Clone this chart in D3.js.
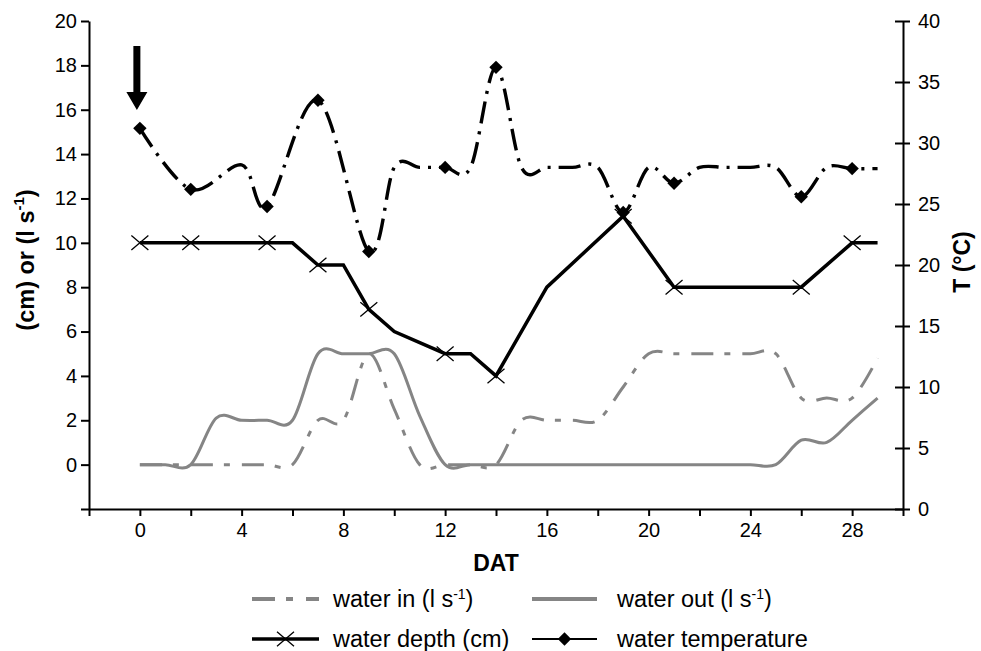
<!DOCTYPE html>
<html lang="en">
<head>
<meta charset="UTF-8">
<title>Water chart</title>
<script src="https://d3js.org/d3.v7.min.js"></script>
<style>
    body { margin: 0; background: #fff; }
    * { font-family: "Liberation Sans", Arial, sans-serif; }
    .axis path, .axis line { stroke: #000; stroke-width: 2; }
    .axis text { fill: #000; font-size: 20px; }
</style>
</head>
<body>
<div id="chart"></div>
<script>

// Data (days after transplanting = DAT)
var days = d3.range(0, 30);

// water in (l s-1), one value per day 0..29
var waterIn = [0, 0, 0, 0, 0, 0, 0, 2, 2, 5, 2.5, 0, 0, 0, 0,
               2, 2, 2, 2, 3.5, 5, 5, 5, 5, 5, 5, 3, 3, 3, 4.8];

// water out (l s-1), one value per day 0..29
var waterOut = [0, 0, 0, 2.1, 2, 2, 2, 5, 5, 5, 5, 2.2, 0, 0, 0,
                0, 0, 0, 0, 0, 0, 0, 0, 0, 0, 0, 1.1, 1.0, 2.0, 3.0];

// water depth (cm)
var depthDays   = [0, 2, 5, 6, 7, 8, 9, 10, 12, 13, 14, 16, 19, 21, 26, 28, 29];
var depthValues = [10, 10, 10, 10, 9, 9, 7, 6, 5, 5, 4, 8, 11.2, 8, 8, 10, 10];
var depthMarkerDays = [0, 2, 5, 7, 9, 12, 14, 19, 21, 26, 28];

// water temperature (°C)
var tempDays   = [0, 2, 4, 5, 7, 9, 10, 11, 12, 13, 14, 15, 16, 17, 18, 19,
                  20, 21, 22, 23, 24, 25, 26, 27, 28, 29];
var tempValues = [31.2, 26.2, 28.2, 24.8, 33.5, 21.1, 28, 28, 28, 28, 36.2, 28, 28, 28, 28, 24.3,
                  28, 26.7, 28, 28, 28, 28, 25.6, 28, 27.9, 27.9];
var tempMarkerDays = [0, 2, 5, 7, 9, 12, 14, 19, 21, 26, 28];

// ticks
var xTicks = d3.range(-2, 31, 2);
var leftTicks = d3.range(-2, 21, 2);
var rightTicks = d3.range(0, 41, 5);

var width = 981, height = 651;
var grey = "#858585";

var svg = d3.select("#chart").append("svg")
    .attr("width", width)
    .attr("height", height);

// Scales
var xScale = d3.scaleLinear().domain([-2, 30]).range([89, 903]);
var yLeft = d3.scaleLinear().domain([-2, 20]).range([509, 21]);
var yRight = d3.scaleLinear().domain([0, 40]).range([509, 21]);

// Axes
svg.append("g")
    .attr("class", "axis")
    .attr("transform", "translate(0," + yLeft(-2) + ")")
    .call(d3.axisBottom(xScale)
        .tickValues(xTicks)
        .tickSize(7)
        .tickSizeOuter(0)
        .tickPadding(7)
        .tickFormat(function(d){ return (d >= 0 && d % 4 === 0 && d <= 28) ? d : ""; }));

svg.append("g")
    .attr("class", "axis")
    .attr("transform", "translate(" + xScale(-2) + ",0)")
    .call(d3.axisLeft(yLeft)
        .tickValues(leftTicks)
        .tickSize(8)
        .tickSizeOuter(0)
        .tickPadding(4)
        .tickFormat(function(d){ return d < 0 ? "" : d; }));

var rightAxis = svg.append("g")
    .attr("class", "axis")
    .attr("transform", "translate(" + xScale(30) + ",0)")
    .call(d3.axisRight(yRight)
        .tickValues(rightTicks)
        .tickSize(7)
        .tickSizeOuter(0)
        .tickPadding(8));
// right axis ticks cross the line
rightAxis.selectAll(".tick line").attr("x1", -8);

// Axis titles
svg.append("text")
    .attr("transform", "translate(34," + 260 + ") rotate(-90)")
    .attr("text-anchor", "middle")
    .attr("font-size", "23.5px")
    .attr("font-weight", "bold")
    .call(function(t){
        t.append("tspan").text("(cm) or (l s");
        t.append("tspan").attr("font-size", "15px").attr("dy", "-10").text("-1");
        t.append("tspan").attr("dy", "10").text(")");
    });

svg.append("text")
    .attr("transform", "translate(970," + 262 + ") rotate(-90)")
    .attr("text-anchor", "middle")
    .attr("font-size", "23px")
    .attr("font-weight", "bold")
    .text("T (°C)");

svg.append("text")
    .attr("x", (xScale(-2) + xScale(30)) / 2)
    .attr("y", 571)
    .attr("text-anchor", "middle")
    .attr("font-size", "23px")
    .attr("font-weight", "bold")
    .text("DAT");

// Smoothed line generators (Excel-like smoothing)
var smoothLeft = d3.line()
    .x(function(d){ return xScale(d[0]); })
    .y(function(d){ return yLeft(d[1]); })
    .curve(d3.curveCatmullRom.alpha(0));

var smoothRight = d3.line()
    .x(function(d){ return xScale(d[0]); })
    .y(function(d){ return yRight(d[1]); })
    .curve(d3.curveCatmullRom.alpha(0));

var straightLeft = d3.line()
    .x(function(d){ return xScale(d[0]); })
    .y(function(d){ return yLeft(d[1]); });

// water in
svg.append("path")
    .datum(days.map(function(d, i){ return [d, waterIn[i]]; }))
    .attr("d", smoothLeft)
    .attr("fill", "none")
    .attr("stroke", grey)
    .attr("stroke-width", 3)
    .attr("stroke-dasharray", "22,11,6,12");

// water out
svg.append("path")
    .datum(days.map(function(d, i){ return [d, waterOut[i]]; }))
    .attr("d", smoothLeft)
    .attr("fill", "none")
    .attr("stroke", grey)
    .attr("stroke-width", 3);

// water depth
var depthData = depthDays.map(function(d, i){ return [d, depthValues[i]]; });
svg.append("path")
    .datum(depthData)
    .attr("d", straightLeft)
    .attr("fill", "none")
    .attr("stroke", "#000")
    .attr("stroke-width", 3.5)
    .attr("stroke-linejoin", "miter");

function crossPath(cx, cy, s){
    return "M" + (cx - s) + "," + (cy - s * 0.85) + "L" + (cx + s) + "," + (cy + s * 0.85) +
           "M" + (cx - s) + "," + (cy + s * 0.85) + "L" + (cx + s) + "," + (cy - s * 0.85);
}

svg.append("g").selectAll("path")
    .data(depthData.filter(function(d){ return depthMarkerDays.indexOf(d[0]) >= 0; }))
    .enter().append("path")
    .attr("d", function(d){ return crossPath(xScale(d[0]), yLeft(d[1]), 8.5); })
    .attr("stroke", "#000")
    .attr("stroke-width", 1.3)
    .attr("fill", "none");

// water temperature
var tempData = tempDays.map(function(d, i){ return [d, tempValues[i]]; });
svg.append("path")
    .datum(tempData)
    .attr("d", smoothRight)
    .attr("fill", "none")
    .attr("stroke", "#000")
    .attr("stroke-width", 3.4)
    .attr("stroke-dasharray", "22,8,3,8");

svg.append("g").selectAll("path")
    .data(tempData.filter(function(d){ return tempMarkerDays.indexOf(d[0]) >= 0; }))
    .enter().append("path")
    .attr("d", d3.symbol().type(d3.symbolSquare).size(90))
    .attr("transform", function(d){ return "translate(" + xScale(d[0]) + "," + yRight(d[1]) + ") rotate(45)"; })
    .attr("fill", "#000");

// Arrow marking day 0
var ax = xScale(0) - 3;
svg.append("path")
    .attr("d", "M" + (ax - 3.5) + ",46 L" + (ax + 3.5) + ",46 L" + (ax + 3.5) + ",92 L" + (ax + 10.5) + ",92 L" +
               ax + ",110 L" + (ax - 10.5) + ",92 L" + (ax - 3.5) + ",92 Z")
    .attr("fill", "#000");

// Legend
var legend = svg.append("g").attr("font-size", "23.5px");

function legendText(x, y, main, sup, tail){
    var t = legend.append("text").attr("x", x).attr("y", y).attr("dy", "0.35em");
    t.append("tspan").text(main);
    if (sup) {
        t.append("tspan").attr("font-size", "14px").attr("dy", "-8").text(sup);
        t.append("tspan").attr("dy", "8").text(tail);
    }
}

// row 1
legend.append("line").attr("x1", 252).attr("x2", 319).attr("y1", 599).attr("y2", 599)
    .attr("stroke", grey).attr("stroke-width", 4).attr("stroke-dasharray", "23,11,7,13");
legendText(333, 599, "water in (l s", "-1", ")");

legend.append("line").attr("x1", 532).attr("x2", 597).attr("y1", 599).attr("y2", 599)
    .attr("stroke", grey).attr("stroke-width", 4);
legendText(617, 599, "water out (l s", "-1", ")");

// row 2
legend.append("line").attr("x1", 252).attr("x2", 319).attr("y1", 639).attr("y2", 639)
    .attr("stroke", "#000").attr("stroke-width", 3.5);
legend.append("path").attr("d", crossPath(285.5, 639, 8.5))
    .attr("stroke", "#000").attr("stroke-width", 1.3).attr("fill", "none");
legendText(333, 639, "water depth (cm)");

legend.append("line").attr("x1", 532).attr("x2", 597).attr("y1", 639).attr("y2", 639)
    .attr("stroke", "#000").attr("stroke-width", 2);
legend.append("path")
    .attr("d", d3.symbol().type(d3.symbolSquare).size(90))
    .attr("transform", "translate(564.5,639) rotate(45)")
    .attr("fill", "#000");
legendText(617, 639, "water temperature");

</script>
</body>
</html>
